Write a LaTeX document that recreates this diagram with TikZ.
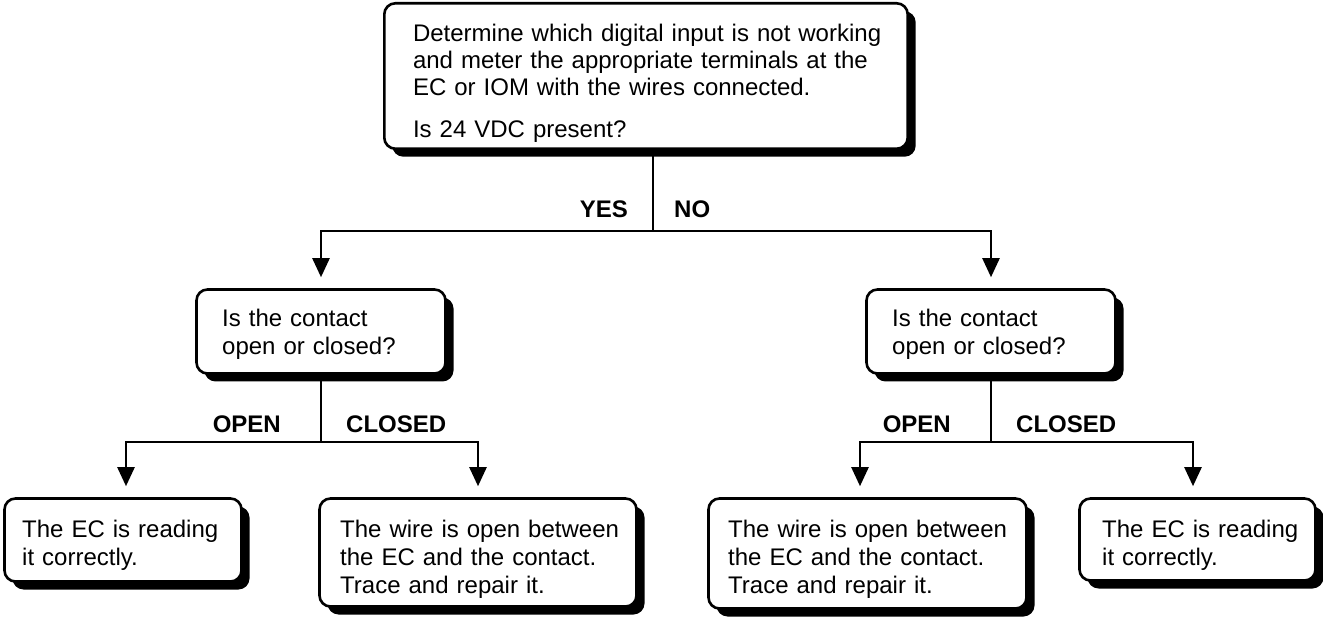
\documentclass[tikz,border=0pt]{standalone}
\usepackage{fontspec}
\setmainfont{Liberation Sans}
\usetikzlibrary{arrows.meta,shadows}

% invisible struts that fix where the text block sits inside a box
\newcommand\boxtop[1]{\rule{0pt}{#1pt}}
\newcommand\boxbot{\rule[-6pt]{0pt}{6pt}}

\begin{document}
\begin{tikzpicture}[x=1pt,y=-1pt,
  box/.style={draw=black, line width=2.6pt, rounded corners=11pt, fill=white,
    align=left, inner ysep=0pt, font=\fontsize{24}{28}\selectfont,
    drop shadow={shadow xshift=8pt, shadow yshift=-8pt, fill=black, opacity=1}},
  wire/.style={line width=2.4pt},
  arr/.style={wire, -{Triangle[length=19pt,width=17pt]}, shorten >=11pt},
  lbl/.style={font=\fontsize{24}{28}\selectfont\bfseries, inner sep=0pt}]

\useasboundingbox (0,0) rectangle (1323,617);

% question boxes
\node[box, font=\fontsize{24}{27}\selectfont, text width=466pt, inner xsep=28.7pt,
      minimum height=145.4pt] (top) at (646,76)
  {\mbox{\boxtop{33}Determine which digital input is not working}\\
   \mbox{and meter the appropriate terminals at the}\\
   \mbox{EC or IOM with the wires connected.}\\[14.7pt]
   \mbox{Is 24 VDC present?\boxbot}};

\node[box, text width=197.6pt, inner xsep=25.7pt, minimum height=84pt] (m1) at (321,331.5)
  {\mbox{\boxtop{25}Is the contact}\\\mbox{open or closed?\boxbot}};
\node[box, text width=197.6pt, inner xsep=25.7pt, minimum height=84pt] (m2) at (991,331.5)
  {\mbox{\boxtop{25}Is the contact}\\\mbox{open or closed?\boxbot}};

% result boxes
\node[box, text width=201.6pt, inner xsep=17.7pt, minimum height=83pt] (b1) at (123,540)
  {\mbox{\boxtop{28}The EC is reading}\\\mbox{it correctly.\boxbot}};
\node[box, text width=275.6pt, inner xsep=20.7pt, minimum height=108pt] (b2) at (478,552.5)
  {\mbox{\boxtop{31}The wire is open between}\\\mbox{the EC and the contact.}\\
   \mbox{Trace and repair it.\boxbot}};
\node[box, text width=278.6pt, inner xsep=19.7pt, minimum height=110pt] (b3) at (867.5,553.5)
  {\mbox{\boxtop{29}The wire is open between}\\\mbox{the EC and the contact.}\\
   \mbox{Trace and repair it.\boxbot}};
\node[box, text width=190.6pt, inner xsep=22.7pt, minimum height=82pt] (b4) at (1197.5,539.5)
  {\mbox{\boxtop{29}The EC is reading}\\\mbox{it correctly.\boxbot}};

% branch points
\coordinate (j0) at (653,231);
\coordinate (j1) at (321,442);
\coordinate (j2) at (991,442);

% connectors
\draw[wire] (top.south -| j0) -- (j0);
\draw[arr] (j0) -| (m1.north);
\draw[arr] (j0) -| (m2.north);

\draw[wire] (m1.south) -- (j1);
\draw[arr] (j1) -| ([xshift=3pt]b1.north);
\draw[arr] (j1) -| (b2.north);

\draw[wire] (m2.south) -- (j2);
\draw[arr] (j2) -| ([xshift=-7.5pt]b3.north);
\draw[arr] (j2) -| ([xshift=-4.5pt]b4.north);

% branch labels
\node[lbl, anchor=base east] (yes) at ([xshift=-25pt,yshift=13pt]j0) {YES};
\node[lbl, anchor=base west] (no) at ([xshift=21pt,yshift=13pt]j0) {NO};
\node[lbl, anchor=base east] (open1) at ([xshift=-40pt,yshift=9pt]j1) {OPEN};
\node[lbl, anchor=base west] (closed1) at ([xshift=25pt,yshift=9pt]j1) {CLOSED};
\node[lbl, anchor=base east] (open2) at ([xshift=-40pt,yshift=9pt]j2) {OPEN};
\node[lbl, anchor=base west] (closed2) at ([xshift=25pt,yshift=9pt]j2) {CLOSED};
\end{tikzpicture}
\end{document}
